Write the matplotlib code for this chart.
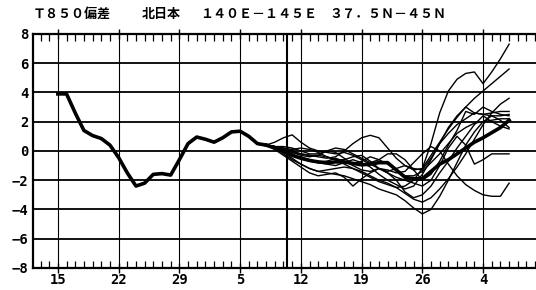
import numpy as np
import matplotlib
matplotlib.use('Agg')
import matplotlib.pyplot as plt

# day index 0 = the "15" tick, one step per day
obs_days = list(range(0, 25))
obs_vals = [3.9, 3.9, 2.6, 1.4, 1.05, 0.85, 0.4, -0.45, -1.5, -2.4, -2.2, -1.6, -1.55,
            -1.65, -0.6, 0.5, 0.95, 0.8, 0.6, 0.9, 1.3, 1.35, 1.0, 0.5, 0.4]

fc_days = list(range(24, 53))
members = [
    [0.4, 0.6, 0.9, 1.1, 0.6, 0.2, 0.0, -0.1, -0.2, -0.1, -0.3, -0.6, -0.9, -1.2, -1.4,
     -1.2, -1.0, -1.3, -1.2, 0.5, 2.6, 4.1, 4.9, 5.3, 5.4, 4.6, 5.4, 6.3, 7.3],
    [0.4, 0.3, 0.1, -0.1, -0.2, -0.3, -0.3, -0.4, -0.6, -0.9, -1.2, -1.5, -1.8, -2.1, -2.3,
     -2.5, -2.4, -2.0, -1.2, -0.3, 0.6, 1.5, 2.3, 3.0, 3.6, 4.1, 4.6, 5.1, 5.6],
    [0.4, 0.3, 0.2, 0.0, -0.2, -0.3, -0.4, -0.5, -0.4, 0.0, 0.5, 0.9, 1.07, 0.9, 0.2,
     -0.5, -1.0, -1.2, -1.3, -0.5, 0.5, 1.2, 1.8, 2.2, 2.6, 2.5, 2.6, 2.7, 2.7],
    [0.4, 0.2, -0.1, -0.5, -0.9, -1.2, -1.4, -1.5, -1.6, -1.7, -1.9, -2.1, -2.3, -2.6, -2.8,
     -3.0, -3.4, -3.9, -4.3, -4.0, -3.1, -2.0, -0.8, 0.4, 1.3, 2.0, 2.4, 2.1, 1.6],
    [0.4, 0.1, -0.3, -0.7, -1.1, -1.5, -1.7, -1.6, -1.5, -1.8, -2.4, -1.9, -1.5, -1.2, -1.3,
     -1.5, -1.4, -0.8, -0.2, 0.3, 0.0, -0.9, -1.7, -2.3, -2.7, -3.0, -3.1, -3.1, -2.2],
    [0.4, 0.3, 0.2, 0.1, 0.2, 0.1, -0.1, -0.4, -0.6, -0.6, -0.4, -0.3, -0.7, -1.2, -1.5,
     -1.8, -2.0, -2.2, -2.4, -2.0, -1.0, 0.2, 1.0, 0.4, -0.9, -0.6, -0.2, -0.2, -0.2],
    [0.4, 0.3, 0.0, -0.2, -0.5, -0.7, -0.8, -0.9, -1.0, -0.8, -0.6, -0.8, -1.1, -1.6, -2.0,
     -2.3, -2.6, -2.4, -1.6, -0.6, 0.5, 1.6, 2.4, 3.0, 2.6, 2.5, 2.4, 2.4, 2.5],
    [0.4, 0.2, 0.0, -0.3, -0.4, -0.6, -0.8, -0.7, -0.5, -0.7, -1.0, -1.3, -1.4, -1.2, -1.5,
     -2.0, -2.8, -3.2, -3.0, -2.4, -1.5, -0.7, 0.2, 1.0, 1.8, 2.4, 2.0, 1.7, 1.5],
    [0.4, 0.3, 0.1, -0.1, -0.3, -0.4, -0.3, 0.0, -0.1, -0.5, -0.9, -0.7, -0.4, -0.6, -0.9,
     -1.3, -1.7, -1.7, -1.4, -0.8, -0.2, 0.5, 1.2, 1.6, 1.9, 2.0, 2.1, 2.2, 2.2],
    [0.4, 0.2, -0.2, -0.6, -0.9, -1.2, -1.4, -1.3, -1.2, -1.1, -1.2, -1.4, -1.7, -2.0, -2.2,
     -2.5, -2.9, -3.3, -3.5, -3.2, -2.6, -1.9, -1.1, -0.2, 0.8, 1.8, 2.6, 3.2, 3.6],
    [0.4, 0.3, 0.3, 0.2, 0.0, -0.2, -0.2, 0.0, 0.2, 0.1, -0.2, -0.5, -0.8, -0.6, -0.2,
     -0.2, -0.6, -1.3, -2.0, -1.6, -0.7, 0.4, 1.4, 2.7, 2.5, 3.0, 2.7, 2.5, 2.4],
]
mean_vals = [0.4, 0.2, 0.0, -0.3, -0.5, -0.65, -0.75, -0.8, -0.75, -0.75, -0.85, -0.95,
             -0.9, -0.8, -0.8, -1.3, -1.8, -1.9, -1.9, -1.4, -0.9, -0.6, -0.2, 0.2, 0.6,
             0.9, 1.25, 1.6, 2.1]

week_pos = [0, 7, 14, 21, 28, 35, 42, 49]
week_labels = ['15', '22', '29', '5', '12', '19', '26', '4']
init_day = 26.4

fig = plt.figure(figsize=(5.36, 2.90), dpi=100)
ax = fig.add_axes([0.061, 0.076, 0.939, 0.807])

# grid
for y in range(-6, 8, 2):
    ax.axhline(y, color='black', lw=1.3, zorder=1)
for x in week_pos:
    ax.axvline(x, color='black', lw=0.8, zorder=1)
ax.axvline(init_day, color='black', lw=1.5, zorder=1)

# observed, ensemble members, ensemble mean
ax.plot(obs_days, obs_vals, color='black', lw=2.6, zorder=3)
for m in members:
    ax.plot(fc_days, m, color='black', lw=1.0, zorder=2)
ax.plot(fc_days, mean_vals, color='black', lw=2.6, zorder=3)

ax.set_xlim(-2.9, 55.1)
ax.set_ylim(-8, 8)

tick_font = dict(family='DejaVu Sans Mono', fontsize=10, fontweight='bold')
ax.set_yticks(range(-8, 9, 2))
ax.set_yticklabels([str(v).replace('-', '\u2212') for v in range(-8, 9, 2)], **tick_font)
ax.tick_params(axis='y', length=0, pad=3)

ax.set_xticks(week_pos)
ax.set_xticklabels(week_labels, **tick_font)
ax.set_xticks(np.arange(-2, 56, 1), minor=True)
ax.tick_params(axis='x', which='major', direction='inout', length=7, width=1.0,
               top=True, pad=0)
ax.tick_params(axis='x', which='minor', direction='in', length=5, width=0.9, top=True)

for s in ['left', 'top', 'bottom']:
    ax.spines[s].set_linewidth(1.6)
ax.spines['right'].set_visible(False)

# title pieces
tfont = ['Noto Sans CJK JP', 'DejaVu Sans']
ty = 0.952
fs = 9.4
fig.text(33 / 536, ty, 'Ｔ８５０偏差', family=tfont, fontsize=fs, fontweight='bold', va='center')
fig.text(142 / 536, ty, '北日本', family=tfont, fontsize=fs, fontweight='bold', va='center')
fig.text(200 / 536, ty, '１４０Ｅ－１４５Ｅ', family=tfont, fontsize=fs, fontweight='bold', va='center')
fig.text(329 / 536, ty, '３７．５Ｎ－４５Ｎ', family=tfont, fontsize=fs, fontweight='bold', va='center')

fig.savefig('out.png', dpi=100, facecolor='white')
